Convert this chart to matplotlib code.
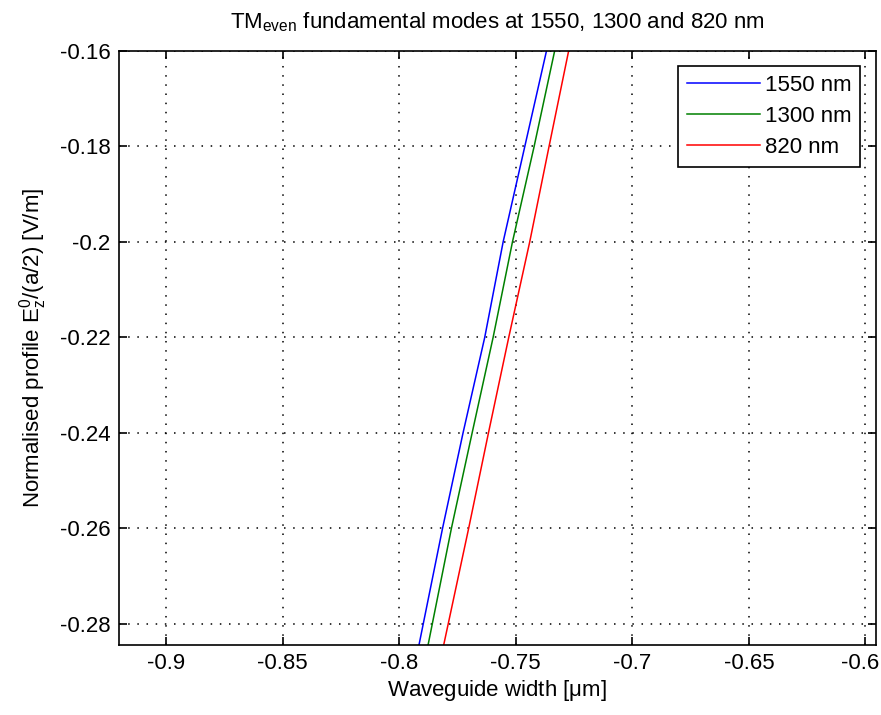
import matplotlib
matplotlib.use("Agg")
import matplotlib.pyplot as plt
from matplotlib.ticker import FormatStrFormatter
from matplotlib.transforms import ScaledTranslation

plt.rcParams['font.family'] = ['Liberation Sans', 'DejaVu Sans']
plt.rcParams['mathtext.fontset'] = 'custom'
plt.rcParams['mathtext.rm'] = 'Liberation Sans'
plt.rcParams['mathtext.it'] = 'Liberation Sans'

# normalised field values (y) and waveguide width for each wavelength (x)
field = [-0.16, -0.18, -0.20, -0.22, -0.24, -0.26, -0.2844]
width_1550 = [-0.7368, -0.7461, -0.7554, -0.7633, -0.7726, -0.7814, -0.7915]
width_1300 = [-0.7333, -0.7421, -0.7514, -0.7597, -0.7687, -0.7776, -0.7876]
width_820 = [-0.7273, -0.7357, -0.7440, -0.7530, -0.7617, -0.7702, -0.7809]
labels = ['1550 nm', '1300 nm', '820 nm']
colors = ['#0000ff', '#008000', '#ff0000']

x_ticks = [-0.9, -0.85, -0.8, -0.75, -0.7, -0.65, -0.6]
y_ticks = [-0.28, -0.26, -0.24, -0.22, -0.2, -0.18, -0.16]

fs = 16

fig = plt.figure(figsize=(8.81, 7.15), dpi=100)
ax = fig.add_axes([0.135, 0.098, 0.859, 0.831])

for xs, lab, c in zip([width_1550, width_1300, width_820], labels, colors):
    ax.plot(xs, field, color=c, lw=1.1, label=lab)

ax.set_xlim(-0.9202, -0.5956)
ax.set_ylim(-0.2844, -0.16)
ax.set_xticks(x_ticks)
ax.set_yticks(y_ticks)
ax.xaxis.set_major_formatter(FormatStrFormatter('%g'))
ax.yaxis.set_major_formatter(FormatStrFormatter('%g'))
ax.tick_params(direction='in', length=6, width=1.2, top=True, right=True,
               labelsize=fs, pad=6)
ax.grid(True, color='black', linestyle=(0, (1, 5)), linewidth=1.1)
for s in ax.spines.values():
    s.set_linewidth(1.2)

ax.set_xlabel(r'Waveguide width [$\mathregular{\mu}$m]', fontsize=fs, labelpad=3)
ax.set_ylabel(r'Normalised profile E$_\mathregular{z}^\mathregular{0}$/(a/2) [V/m]',
              fontsize=fs, labelpad=8)
ax.set_title(r'TM$_\mathregular{even}$ fundamental modes at 1550, 1300 and 820 nm',
             fontsize=fs, pad=16)

leg = ax.legend(loc='upper right', fontsize=fs, fancybox=False, framealpha=1,
                edgecolor='black', handlelength=3.3, handletextpad=0.2,
                labelspacing=0.45, borderaxespad=0.7, borderpad=0.4)
leg.get_frame().set_linewidth(1.2)

# last x tick label sits right at the figure edge; nudge it left a little
fig.canvas.draw()
last = ax.xaxis.get_major_ticks()[-1].label1
last.set_transform(last.get_transform() + ScaledTranslation(-0.05, 0, fig.dpi_scale_trans))

fig.savefig('out.png', dpi=100)
